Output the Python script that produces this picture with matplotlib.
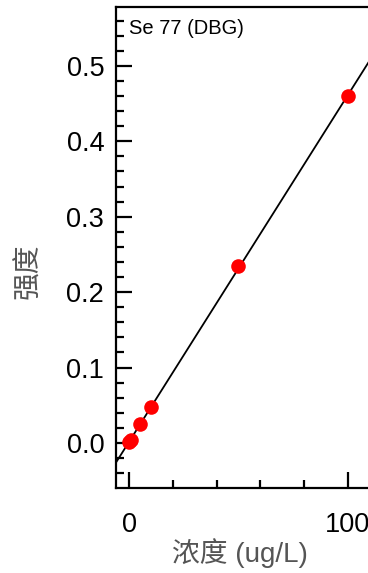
import numpy as np
import matplotlib
matplotlib.use('Agg')
import matplotlib.pyplot as plt
from matplotlib.ticker import MultipleLocator

# calibration points, Se 77 (DBG)
conc = [0, 1, 5, 10, 50, 100]
intensity = [0.001, 0.004, 0.025, 0.048, 0.234, 0.460]
title = 'Se 77 (DBG)'
xlab = '浓度 (ug/L)'
ylab = '强度'

plt.rcParams['font.family'] = ['Liberation Sans', 'Noto Sans CJK SC', 'DejaVu Sans']

fig = plt.figure(figsize=(3.68, 5.73), dpi=100)
# right side of the axes runs off the figure, like the reference
ax = fig.add_axes([116/368, 85/573, 256/368, 481/573])

# fitted calibration line
k, b = np.polyfit(conc, intensity, 1)
xl = np.array([-5.94, 111.0])
ax.plot(xl, k*xl + b, color='black', lw=1.3, zorder=2)
ax.plot(conc, intensity, 'o', color='red', ms=10.5, mec='none', zorder=3)

ax.set_xlim(xl[0], xl[1])
ax.set_ylim(-0.0597, 0.578)

ax.xaxis.set_major_locator(MultipleLocator(100))
ax.xaxis.set_minor_locator(MultipleLocator(20))
ax.yaxis.set_major_locator(MultipleLocator(0.1))
ax.yaxis.set_minor_locator(MultipleLocator(0.02))
ax.yaxis.set_major_formatter(matplotlib.ticker.FormatStrFormatter('%.1f'))

ax.tick_params(which='both', direction='in', top=False, right=False, width=1.6)
ax.tick_params(which='major', length=11.5, labelsize=19.5)
ax.tick_params(axis='x', which='major', pad=17)
ax.tick_params(axis='y', which='major', pad=8.5)
ax.tick_params(which='minor', length=5.5)
for s in ax.spines.values():
    s.set_linewidth(1.6)

ax.text(0.05, 0.975, title, transform=ax.transAxes, fontsize=14.5,
        ha='left', va='top')

ax.set_xlabel(xlab, fontsize=20, color='#555555')
ax.xaxis.set_label_coords(0.484, -0.104)
ax.set_ylabel(ylab, fontsize=20, color='#555555')
ax.yaxis.set_label_coords(-0.289, 0.45)

fig.savefig('out.png', dpi=100)
